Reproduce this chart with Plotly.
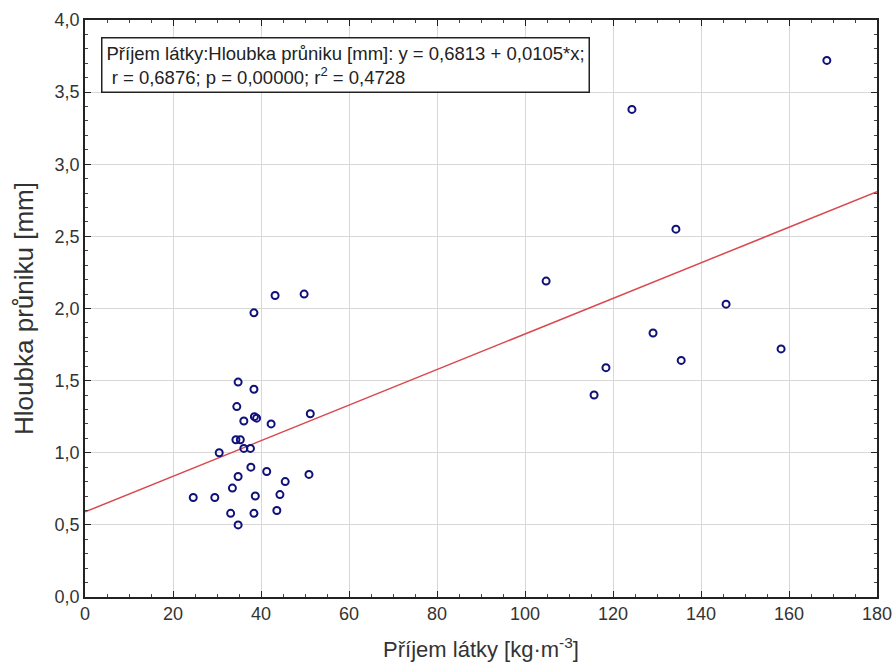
import plotly.graph_objects as go

# data
x_vals = [168.6, 124.3, 134.3, 104.8, 145.7, 129.1, 158.2, 135.5, 118.4, 115.7,
          43.2, 49.8, 38.4, 34.8, 38.4, 34.5, 38.5, 39.0, 51.2, 36.1, 42.3,
          34.3, 35.3, 30.5, 36.1, 37.6, 37.7, 41.3, 50.9, 34.8, 45.5, 33.5,
          24.6, 29.5, 38.7, 44.3, 33.1, 38.4, 43.6, 34.8]
y_vals = [3.72, 3.38, 2.55, 2.19, 2.03, 1.83, 1.72, 1.64, 1.59, 1.40,
          2.09, 2.10, 1.97, 1.49, 1.44, 1.32, 1.25, 1.24, 1.27, 1.22, 1.20,
          1.09, 1.09, 1.00, 1.03, 1.03, 0.90, 0.87, 0.85, 0.835, 0.80, 0.755,
          0.69, 0.69, 0.70, 0.71, 0.58, 0.58, 0.60, 0.50]
fit_x = [0, 180]
fit_y = [0.59, 2.81]

x_ticks = [0, 20, 40, 60, 80, 100, 120, 140, 160, 180]
y_ticks = [0.0, 0.5, 1.0, 1.5, 2.0, 2.5, 3.0, 3.5, 4.0]

font = "Liberation Sans, Arial"

fig = go.Figure()
fig.add_trace(go.Scatter(x=fit_x, y=fit_y, mode="lines",
                         line=dict(color="#d9494e", width=1.5), showlegend=False))
fig.add_trace(go.Scatter(x=x_vals, y=y_vals, mode="markers",
                         marker=dict(symbol="circle-open", size=7, color="#10107a",
                                     line=dict(width=2, color="#10107a")),
                         showlegend=False))

axis_common = dict(showline=True, linecolor="#222222", linewidth=1.5, mirror="ticks",
                   ticks="inside", ticklen=6, tickcolor="#222222",
                   showgrid=True, gridcolor="#d8d8d8", gridwidth=1, zeroline=False,
                   automargin=False,
                   tickfont=dict(family=font, size=18, color="#333333"))

fig.update_layout(
    width=894, height=666,
    margin=dict(l=85, r=17, t=20, b=69),
    paper_bgcolor="white", plot_bgcolor="white",
    separators=", ",
    xaxis=dict(range=[0, 180], tickvals=x_ticks, ticktext=[str(v) for v in x_ticks],
               minor=dict(ticks="inside", ticklen=3, dtick=5, tickcolor="#444444", showgrid=False),
               title=dict(text="Příjem látky [kg·m<sup>-3</sup>]",
                          font=dict(family=font, size=22, color="#333333"), standoff=18),
               **axis_common),
    yaxis=dict(range=[0, 4], tickvals=y_ticks, tickformat=".1f",
               minor=dict(ticks="inside", ticklen=3, dtick=0.1, tickcolor="#444444", showgrid=False),
               title=dict(text="Hloubka průniku [mm]",
                          font=dict(family=font, size=26, color="#333333"), standoff=14),
               **axis_common),
    annotations=[dict(
        xref="paper", yref="paper", x=0.02, y=0.97, xanchor="left", yanchor="top",
        align="left", showarrow=False,
        text="Příjem látky:Hloubka průniku [mm]: y = 0,6813 + 0,0105*x;<br> r = 0,6876; p = 0,00000; r<sup>2</sup> = 0,4728",
        font=dict(family=font, size=18.5, color="#222222"),
        bgcolor="white", bordercolor="#222222", borderwidth=1.5, borderpad=4,
    )],
)

fig.write_html("out.html")
